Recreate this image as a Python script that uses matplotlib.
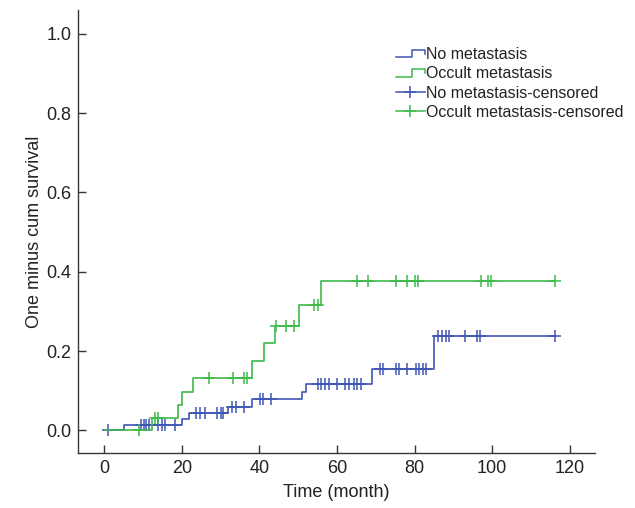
import matplotlib
matplotlib.use("Agg")
import matplotlib.pyplot as plt
from matplotlib.lines import Line2D
from matplotlib.legend_handler import HandlerBase

plt.rcParams['font.family'] = ['Liberation Sans', 'DejaVu Sans']

# event times (month) and cumulative incidence after each event
no_met_times = [5.0, 20.0, 22.0, 32.0, 38.0, 51.0, 52.0, 69.0, 85.1]
no_met_levels = [0.014, 0.029, 0.044, 0.059, 0.079, 0.098, 0.117, 0.154, 0.238]
no_met_end = 116.2
no_met_cens = [1.0, 9.5, 10.2, 10.9, 11.6, 13.9, 14.8, 15.8, 18.2,
               23.6, 24.7, 26.0, 29.1, 30.0, 30.7,
               33.0, 33.9, 36.1,
               40.1, 41.0, 43.0,
               55.0, 55.9, 56.9, 57.9, 60.0, 62.2, 63.1, 64.4, 65.2, 66.1,
               71.1, 71.9, 75.3, 76.1, 78.1, 80.3, 81.2, 82.1, 83.0,
               86.1, 87.0, 88.0, 89.0, 93.0, 96.0, 96.9, 116.2]

occ_times = [12.3, 19.0, 20.0, 23.0, 38.0, 41.2, 44.0, 50.2, 56.0]
occ_levels = [0.032, 0.065, 0.098, 0.131, 0.176, 0.220, 0.264, 0.316, 0.377]
occ_end = 116.2
occ_cens = [9.0, 13.1, 13.9, 27.0, 33.1, 36.1, 36.9, 44.3, 47.0, 49.0,
            54.2, 55.1, 65.1, 68.0, 75.1, 78.1, 80.1, 80.9, 97.0, 99.0,
            99.8, 116.2]

blue = '#4056b4'
green = '#3dba4a'


def level_at(times, levels, t):
    v = 0.0
    for ti, li in zip(times, levels):
        if ti <= t:
            v = li
    return v


class StepHandler(HandlerBase):
    def create_artists(self, legend, orig_handle, xdescent, ydescent,
                       width, height, fontsize, trans):
        x0, y0 = -xdescent, -ydescent
        xs = [x0, x0 + 0.55 * width, x0 + 0.55 * width, x0 + width, x0 + width]
        ys = [y0 + 0.15 * height, y0 + 0.15 * height, y0 + 0.8 * height,
              y0 + 0.8 * height, y0 + 0.45 * height]
        ln = Line2D(xs, ys, color=orig_handle.get_color(), lw=1.1)
        ln.set_transform(trans)
        return [ln]


fig = plt.figure(figsize=(6.35, 5.08), dpi=100)
ax = fig.add_axes([0.123, 1 - 453 / 508, 0.814, 443 / 508])

for times, levels, end, cens, col in [
        (no_met_times, no_met_levels, no_met_end, no_met_cens, blue),
        (occ_times, occ_levels, occ_end, occ_cens, green)]:
    t = [0] + times + [end]
    s = [0] + levels + [levels[-1]]
    ax.step(t, s, where='post', color=col, lw=1.2)
    ax.plot(cens, [level_at(times, levels, c) for c in cens], '+',
            color=col, ms=8, mew=1.1, ls='none')

ax.set_xlim(-6.7, 126.5)
ax.set_ylim(-0.057, 1.06)
ax.set_xticks([0, 20, 40, 60, 80, 100, 120])
ax.set_yticks([0.0, 0.2, 0.4, 0.6, 0.8, 1.0])
ax.set_yticklabels(['0.0', '0.2', '0.4', '0.6', '0.8', '1.0'])
ax.spines['top'].set_visible(False)
ax.spines['right'].set_visible(False)
for sp in ['left', 'bottom']:
    ax.spines[sp].set_color('#3b3634')
    ax.spines[sp].set_linewidth(1.0)
ax.tick_params(direction='in', length=6, width=1.0, color='#3b3634',
               labelsize=13, colors='#222222', pad=5)
ax.set_xlabel('Time (month)', fontsize=13, color='#222222', labelpad=5)
ax.set_ylabel('One minus cum survival', fontsize=13, color='#222222', labelpad=2)

h1 = Line2D([], [], color=blue)
h2 = Line2D([], [], color=green)
h3 = Line2D([], [], color=blue, marker='+', ms=9, mew=1.1, lw=1.1)
h4 = Line2D([], [], color=green, marker='+', ms=9, mew=1.1, lw=1.1)
leg = fig.legend([h1, h2, h3, h4],
                 ['No metastasis', 'Occult metastasis',
                  'No metastasis-censored', 'Occult metastasis-censored'],
                 loc='upper left', bbox_to_anchor=(396 / 635, 1 - 47 / 508),
                 frameon=False, fontsize=11.5, handlelength=1.8,
                 handletextpad=0.1, labelspacing=0.27, borderpad=0,
                 borderaxespad=0,
                 handler_map={h1: StepHandler(), h2: StepHandler()})
for txt in leg.get_texts():
    txt.set_color('#222222')

fig.savefig('out.png', dpi=100)
